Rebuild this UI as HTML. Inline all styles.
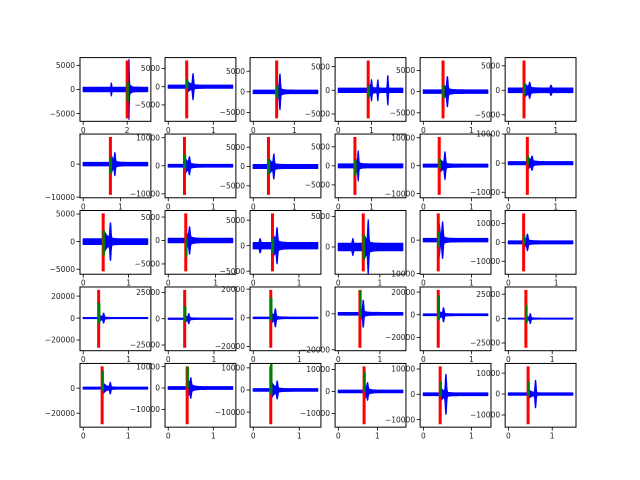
<!DOCTYPE html>
<html><head><meta charset="utf-8"><style>
html,body{margin:0;padding:0;background:#fff;width:640px;height:480px;overflow:hidden}
svg text{font-family:"DejaVu Sans","Liberation Sans",sans-serif;font-size:7.5px;fill:#222}
</style></head><body>
<svg id="fig" width="640" height="480" viewBox="0 0 640 480" xmlns="http://www.w3.org/2000/svg"></svg>
<script>
const durations=[2.93,1.43,1.57,1.94,1.34,1.36, 1.73,1.43,1.57,1.94,1.34,1.36, 1.42,1.36,1.41,1.55,1.34,1.35, 1.42,1.41,1.40,1.55,1.34,1.47, 1.43,1.43,1.40,1.65,1.34,1.47];
const picks=[2.0,0.41,0.57,0.9,0.41,0.33, 0.73,0.36,0.37,0.5,0.33,0.4, 0.44,0.37,0.42,0.6,0.31,0.32, 0.34,0.36,0.38,0.52,0.31,0.4, 0.42,0.42,0.38,0.66,0.35,0.45];
const redHi=[6000,7200,7600,6300,7340,6080, 8220,10270,7650,7580,10280,9000, 5110,5780,6330,5500,7990,15360, 25660,27450,19480,13290,21950,29430, 17390,10150,10690,11390,11050,13220];
const redLo=[-6000,-8700,-6450,-5940,-6320,-5740, -9320,-10370,-7350,-7610,-10460,-10900, -5380,-6580,-5030,-3990,-9330,-15360, -27060,-27650,-20880,-18890,-29150,-29930, -28790,-16950,-15490,-14890,-11850,-14420];
const greenLo=[-2500,-500,-1500,-1500,-1500,-1000, -3000,-1000,-2000,-2500,-1000,-500, -2500,-3500,-1500,-2000,-2000,-1000, -5000,-3000,-2000,-2000,-5000,-5000, -2000,0,-2000,0,-1000,-1000];
const greenHi=[1500,2000,1500,1000,1500,1500, 2000,4000,2000,1500,2500,2500, 2000,500,1500,2000,2500,4000, 14000,12000,14000,13000,17000,14000, 14000,10000,12000,9000,5000,6000];
const noiseAmp=[450,400,400,450,400,450, 500,450,500,500,500,500, 500,450,600,600,500,750, 400,500,450,700,700,400, 700,600,550,550,500,500];
const codaAmp=[3000,1500,1500,1200,1500,1200, 3000,3000,2000,2000,2500,2000, 2000,1500,2000,2000,2000,2000, 3000,3000,4000,3000,3000,2500, 5000,4000,4000,3500,2500,2000];
const burstTimes=[[1.28,2.08],[0.55],[0.65],[1.0,1.19,1.49],[0.5],[0.45,0.9], [0.85],[0.47],[0.5],[0.6],[0.45],[0.5], [0.6],[0.45],[0.15,0.52],[0.35,0.72],[0.33,0.4],[0.4], [0.45],[0.45],[0.48],[0.6],[0.42],[0.5], [0.6],[0.5],[0.52],[0.75],[0.47],[0.62]];
const burstAmps=[[1000,4800],[3000],[3500],[1500,1800,2800],[2800],[1000,600], [2500],[2200],[2500],[3000],[4000],[1500], [2800],[2000],[800,2500],[800,3500],[3000,4500],[3000], [3500],[3500],[5000],[6000],[5000],[4000], [3500],[3000],[3000],[2500],[7000],[6000]];
const yTicks=[[-5000,0,5000],[-5000,0,5000],[-5000,0,5000],[-5000,0,5000],[-5000,0,5000],[-5000,0,5000],
 [-10000,0],[-10000,0,10000],[-5000,0,5000],[-5000,0,5000],[-10000,0,10000],[-10000,0,10000],
 [-5000,0,5000],[-5000,0,5000],[-5000,0,5000],[0,5000],[-10000,0],[-10000,0,10000],
 [-20000,0,20000],[-25000,0,25000],[-20000,0,20000],[-20000,0],[-20000,0,20000],[-25000,0,25000],
 [-20000,0],[-10000,0,10000],[-10000,0,10000],[-10000,0,10000],[-10000,0,10000],[-10000,0,10000]];
const xTicks=[[0,2],[0,1],[0,1],[0,1],[0,1],[0,1],[0,1],[0,1],[0,1],[0,1],[0,1],[0,1],[0,1],[0,1],[0,1],[0,1],[0,1],[0,1],[0,1],[0,1],[0,1],[0,1],[0,1],[0,1],[0,1],[0,1],[0,1],[0,1],[0,1],[0,1]];

const NS='http://www.w3.org/2000/svg';
const svg=document.getElementById('fig');
const L0=80,W=70.86,GX=14.17,T0=57.6,H=63.72,GY=12.74;
function mk(tag,attrs,parent){const e=document.createElementNS(NS,tag);for(const k in attrs)e.setAttribute(k,attrs[k]);parent.appendChild(e);return e;}
function fmt(v){return v<0?'\u2212'+Math.abs(v):String(v);}
for(let i=0;i<30;i++){
  const r=Math.floor(i/6),c=i%6;
  const ax=L0+c*(W+GX), ay=T0+r*(H+GY);
  const g=mk('g',{},svg);
  
  
  const D=durations[i];
  const xmin=-0.05*D,xmax=1.05*D;
  const R=redHi[i]-redLo[i];
  const ymin=redLo[i]-0.05*R,ymax=redHi[i]+0.05*R;
  const sx=t=>ax+(t-xmin)/(xmax-xmin)*W;
  const sy=v=>ay+(ymax-v)/(ymax-ymin)*H;
  const clipId='clip'+i;
  const cp=mk('clipPath',{id:clipId},g);
  mk('rect',{x:ax,y:ay,width:W,height:H},cp);
  const plot=mk('g',{'clip-path':'url(#'+clipId+')'},g);
  const N=200,up=[],dn=[];
  for(let k=0;k<=N;k++){
    const t=D*k/N;
    let e=noiseAmp[i];
    if(t>=picks[i]) e+=codaAmp[i]*Math.exp(-(t-picks[i])/0.07);
    burstTimes[i].forEach((bt,j)=>{e+=burstAmps[i][j]*Math.exp(-Math.pow((t-bt)/0.016,2));});
    up.push(sx(t).toFixed(2)+','+sy(e).toFixed(2));
    dn.push(sx(t).toFixed(2)+','+sy(-e).toFixed(2));
  }
  const wave=mk('polygon',{points:up.concat(dn.reverse()).join(' '),fill:'#0000ff',stroke:'#0000ff','stroke-width':1.2,'stroke-linejoin':'round'},plot);
  
  
  const red=mk('line',{x1:sx(picks[i]),x2:sx(picks[i]),y1:sy(redLo[i]),y2:sy(redHi[i]),stroke:'#ff0000','stroke-width':3},plot);
  
  
  const grn=mk('line',{x1:sx(picks[i])+0.5,x2:sx(picks[i])+0.5,y1:sy(greenLo[i]),y2:sy(greenHi[i]),stroke:'#008000','stroke-width':2.5},plot);
  
  
  const frame=mk('rect',{x:ax,y:ay,width:W,height:H,fill:'none',stroke:'#000','stroke-width':1},g);
  
  
  yTicks[i].forEach(v=>{
    const y=sy(v);
    mk('line',{x1:ax-3.5,x2:ax,y1:y,y2:y,stroke:'#000','stroke-width':0.8},g);
    const tx=mk('text',{x:ax-5,y:y+2.7,'text-anchor':'end'},g);
    tx.textContent=fmt(v);
    
    
  });
  xTicks[i].forEach(v=>{
    const x=sx(v);
    mk('line',{x1:x,x2:x,y1:ay+H,y2:ay+H+3.5,stroke:'#000','stroke-width':0.8},g);
    const tx=mk('text',{x:x,y:ay+H+11.5,'text-anchor':'middle'},g);
    tx.textContent=fmt(v);
    
    
  });
}
</script>
</body></html>
